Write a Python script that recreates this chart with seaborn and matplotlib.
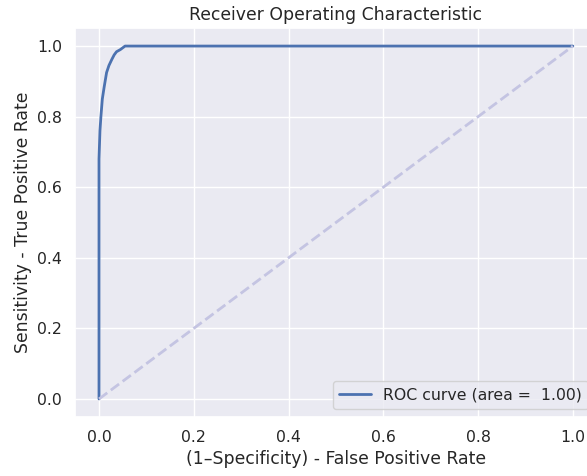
import matplotlib
matplotlib.use("Agg")
import matplotlib.pyplot as plt
import seaborn as sns
import pandas as pd

sns.set_theme(font_scale=1.035)

fpr = [0.0, 0.0, 0.0, 0.001, 0.002, 0.004, 0.007, 0.011, 0.016, 0.021, 0.027, 0.032, 0.037, 0.045, 0.050, 0.055, 0.2, 0.5, 0.8, 1.0]
tpr = [0.0, 0.35, 0.68, 0.72, 0.76, 0.80, 0.85, 0.885, 0.925, 0.945, 0.962, 0.975, 0.984, 0.990, 0.995, 1.0, 1.0, 1.0, 1.0, 1.0]
diag = [0.0, 1.0]
auc_label = "ROC curve (area =  1.00)"

fig = plt.figure(figsize=(5.87, 4.76), dpi=100)
ax = fig.add_axes([0.1283, 0.1248, 0.888, 0.8155])

df = pd.DataFrame({"fpr": fpr, "tpr": tpr})
sns.lineplot(data=df, x="fpr", y="tpr", ax=ax, color="#4c72b0", lw=2,
             label=auc_label, sort=False, estimator=None)
sns.lineplot(x=diag, y=diag, ax=ax, color="#c4c4e2", lw=2, linestyle="--")

ax.set_xlim(-0.05, 1.05)
ax.set_ylim(-0.05, 1.05)
ax.set_xticks([0.0, 0.2, 0.4, 0.6, 0.8, 1.0])
ax.set_yticks([0.0, 0.2, 0.4, 0.6, 0.8, 1.0])
ax.set_xlabel("(1\u2013Specificity) - False Positive Rate")
ax.set_ylabel("Sensitivity - True Positive Rate")
ax.set_title("Receiver Operating Characteristic")
ax.legend(loc="lower right")

fig.savefig("out.png", dpi=100)
